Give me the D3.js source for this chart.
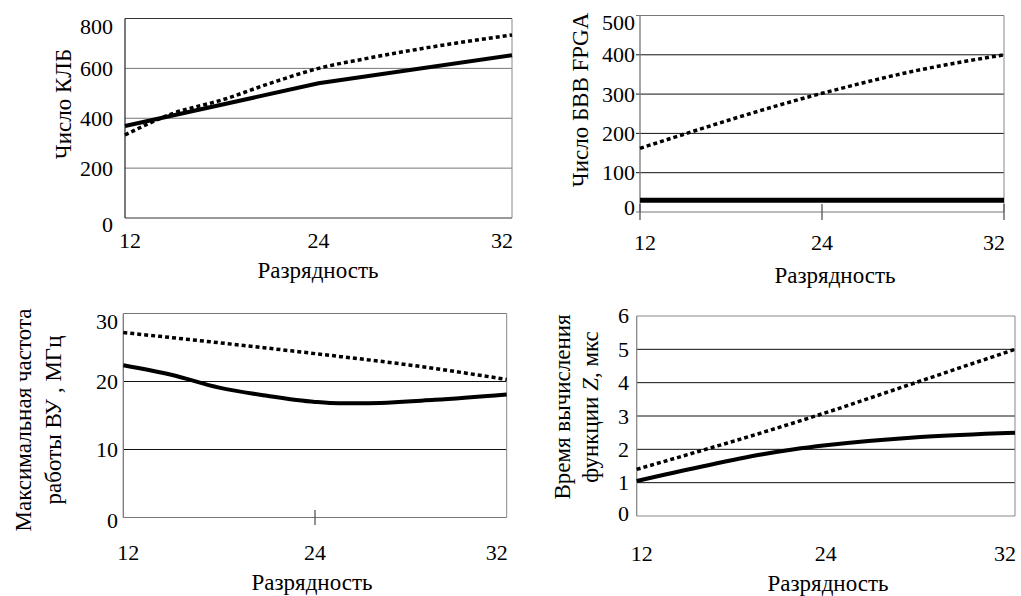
<!DOCTYPE html>
<html><head><meta charset="utf-8">
<script src="https://cdn.jsdelivr.net/npm/d3@7"></script>
<style>
body{margin:0;background:#fff}
</style>
</head><body>
<svg id="c" width="1021" height="596"></svg>
<script>
// ---------- data ----------
const xTicks = [12, 24, 32];
const xTitle = "Разрядность";

const p1YTicks = [0, 200, 400, 600, 800];
const p1SolidX = [12, 24, 32];
const p1Solid  = [369, 540, 653];
const p1DotX   = [12, 15, 18, 21, 24, 26, 28, 32];
const p1Dot    = [333, 420, 473, 540, 600, 640, 675, 734];

const p2YTicks = [0, 100, 200, 300, 400, 500];
const p2SolidX = [12, 32];
const p2Solid  = [30, 30];
const p2DotX   = [12, 24, 28, 32];
const p2Dot    = [162, 302, 358, 400];

const p3YTicks = [0, 10, 20, 30];
const p3SolidX = [12, 15, 18, 21, 24, 25, 26, 29, 32];
const p3Solid  = [22.4, 21.0, 19.1, 17.9, 17.0, 16.8, 16.8, 17.3, 18.1];
const p3DotX   = [12, 18, 24, 28, 32];
const p3Dot    = [27.2, 25.7, 24.1, 22.4, 20.3];

const p4YTicks = [0, 1, 2, 3, 4, 5, 6];
const p4SolidX = [12, 16, 20, 22, 24, 28, 32];
const p4Solid  = [1.05, 1.47, 1.85, 2.0, 2.12, 2.37, 2.5];
const p4DotX   = [12, 24, 28, 32];
const p4Dot    = [1.4, 3.1, 4.05, 5.0];

const p1YTitle = ["Число КЛБ"];
const p2YTitle = ["Число БВВ FPGA"];
const p3YTitle = ["Максимальная частота", "работы ВУ , МГц"];
const p4YTitle = ["Время вычисления", "функции |Z|, мкс"];

// ---------- layout ----------
const FONT = "'Liberation Serif', 'Times New Roman', 'DejaVu Serif', serif";
const FSIZE = "22px";
const TSIZE = "23px";
const panels = [
  {yTicks:p1YTicks, sx:p1SolidX, sy:p1Solid, dx:p1DotX, dy:p1Dot, title:p1YTitle,
   L:125, R:512, T:18.5, B:218, grid:"#777", frameL:"#333", frameR:"#888",
   yLabRight:113, yLabShift:{top:8, bottom:6}, xLabY:240, xTitleX:318, xTitleY:270,
   yTitleX:[63], yTitleY:104, xTickMarks:[], yTickOut:0},
  {yTicks:p2YTicks, sx:p2SolidX, sy:p2Solid, dx:p2DotX, dy:p2Dot, title:p2YTitle,
   L:640, R:1004, T:15.5, B:212, grid:"#111", frameL:"#777", frameR:"#888",
   yLabRight:635, yLabShift:{top:7, bottom:-5}, xLabY:242, xTitleX:835, xTitleY:275,
   yTitleX:[580], yTitleY:100, xTickMarks:[12,24,32], xTickSpan:[204,220], yTickOut:4, solidW:5},
  {yTicks:p3YTicks, sx:p3SolidX, sy:p3Solid, dx:p3DotX, dy:p3Dot, title:p3YTitle,
   L:123.3, R:506.7, T:313.5, B:517.5, grid:"#111", frameL:"#777", frameR:"#888",
   yLabRight:118, yLabShift:{top:8, bottom:3}, xLabY:552, xTitleX:312, xTitleY:582,
   yTitleX:[23, 53], yTitleY:420, xTickMarks:[24], xTickSpan:[510,525], yTickOut:0},
  {yTicks:p4YTicks, sx:p4SolidX, sy:p4Solid, dx:p4DotX, dy:p4Dot, title:p4YTitle,
   L:636.7, R:1015, T:316, B:516, grid:"#111", frameL:"#888", frameR:"#888",
   yLabRight:629, yLabShift:{top:-1, bottom:-3}, xLabY:553, xTitleX:828, xTitleY:583,
   yTitleX:[562, 590], yTitleY:407, xTickMarks:[], yTickOut:0}
];

const svg = d3.select("#c");

function styleText(sel, size) {
  return sel.style("font-family", FONT).style("font-size", size || FSIZE).attr("fill", "#000");
}

panels.forEach(p => {
  const yMax = p.yTicks[p.yTicks.length - 1];
  const x = d3.scaleLinear().domain(xTicks).range([p.L, (p.L + p.R) / 2, p.R]);
  const y = d3.scaleLinear().domain([0, yMax]).range([p.B, p.T]);
  const g = svg.append("g");

  g.selectAll(".grid").data(p.yTicks.filter(v => v > 0 && v < yMax)).join("line")
    .attr("x1", p.L - p.yTickOut).attr("x2", p.R)
    .attr("y1", d => y(d)).attr("y2", d => y(d))
    .attr("stroke", p.grid).attr("stroke-width", 1);

  g.append("line").attr("x1", p.L).attr("x2", p.R).attr("y1", p.T).attr("y2", p.T).attr("stroke", p.frameL);
  g.append("line").attr("x1", p.L).attr("x2", p.R).attr("y1", p.B).attr("y2", p.B).attr("stroke", p.frameL);
  g.append("line").attr("x1", p.R).attr("x2", p.R).attr("y1", p.T).attr("y2", p.B).attr("stroke", p.frameR);
  g.append("line").attr("x1", p.L).attr("x2", p.L).attr("y1", p.T).attr("y2", p.B).attr("stroke", p.frameL).attr("stroke-width", 1.3);

  if (p.yTickOut) {
    g.selectAll(".yt").data([0, yMax]).join("line")
      .attr("x1", p.L - p.yTickOut).attr("x2", p.L)
      .attr("y1", d => y(d)).attr("y2", d => y(d)).attr("stroke", "#777");
  }
  g.selectAll(".xt").data(p.xTickMarks).join("line")
    .attr("x1", d => x(d)).attr("x2", d => x(d))
    .attr("y1", p.xTickSpan ? p.xTickSpan[0] : 0).attr("y2", p.xTickSpan ? p.xTickSpan[1] : 0)
    .attr("stroke", "#555").attr("stroke-width", 1.3);

  styleText(g.selectAll(".yl").data(p.yTicks).join("text")
    .attr("x", p.yLabRight)
    .attr("y", d => y(d) + (d === yMax ? p.yLabShift.top : (d === 0 ? p.yLabShift.bottom : 0)))
    .attr("text-anchor", "end").attr("dominant-baseline", "central")
    .text(d => d));

  styleText(g.selectAll(".xl").data(xTicks).join("text")
    .attr("x", (d, i) => x(d) + (i === 0 ? 5 : (i === xTicks.length - 1 ? -10 : 0)))
    .attr("y", p.xLabY).attr("text-anchor", "middle").attr("dominant-baseline", "central")
    .text(d => d));

  styleText(g.append("text").attr("x", p.xTitleX).attr("y", p.xTitleY)
    .attr("text-anchor", "middle").attr("dominant-baseline", "central").text(xTitle), TSIZE);

  p.title.forEach((t, i) => {
    const tx = styleText(g.append("text")
      .attr("transform", `translate(${p.yTitleX[i]},${p.yTitleY}) rotate(-90)`)
      .attr("text-anchor", "middle").attr("dominant-baseline", "central"), TSIZE);
    t.split("|").forEach((s, k) => {
      const ts = tx.append("tspan").text(s);
      if (k % 2 === 1) ts.style("font-style", "italic");
    });
  });

  const line = d3.line().x(d => x(d[0])).y(d => y(d[1])).curve(d3.curveMonotoneX);

  g.append("path").datum(p.dx.map((v, i) => [v, p.dy[i]]))
    .attr("d", line).attr("fill", "none").attr("stroke", "#000")
    .attr("stroke-width", 3.5).attr("stroke-dasharray", "4,3");
  g.append("path").datum(p.sx.map((v, i) => [v, p.sy[i]]))
    .attr("d", d3.line().x(d => x(d[0])).y(d => y(d[1])).curve(p.sx.length > 3 ? d3.curveMonotoneX : d3.curveLinear))
    .attr("fill", "none").attr("stroke", "#000")
    .attr("stroke-width", p.solidW || 4);
});
</script>
</body></html>
